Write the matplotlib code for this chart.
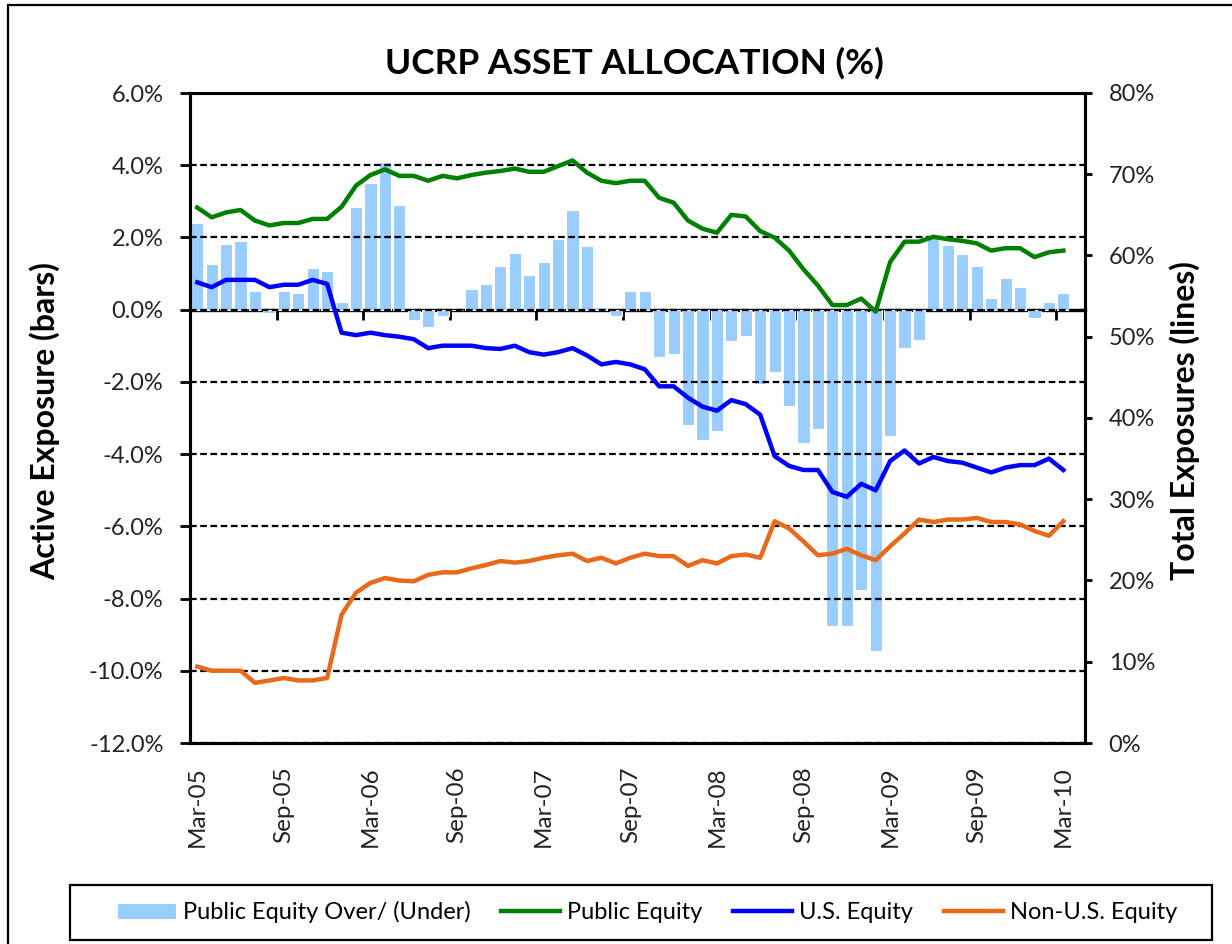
import matplotlib
matplotlib.use("Agg")
import matplotlib.pyplot as plt
import numpy as np
from matplotlib.patches import Rectangle

plt.rcParams["font.family"] = ["Lato", "DejaVu Sans"]

# monthly values, Mar-05 .. Mar-10
over_under = [2.40, 1.27, 1.82, 1.89, 0.51, -0.10, 0.51, 0.45, 1.14, 1.08,
              0.20, 2.83, 3.52, 4.08, 2.89, -0.29, -0.49, -0.17, 0.00, 0.57,
              0.70, 1.20, 1.58, 0.95, 1.33, 1.95, 2.77, 1.77, 0.07, -0.17,
              0.51, 0.51, -1.30, -1.23, -3.19, -3.62, -3.37, -0.86, -0.74, -2.05,
              -1.73, -2.68, -3.68, -3.30, -8.75, -8.75, -7.75, -9.44, -3.49, -1.05,
              -0.85, 2.07, 1.78, 1.53, 1.20, 0.33, 0.89, 0.64, -0.23, 0.20, 0.45]
public_equity = [65.9, 64.7, 65.3, 65.6, 64.3, 63.7, 64.0, 64.0, 64.5, 64.5,
                 66.0, 68.6, 69.9, 70.6, 69.8, 69.8, 69.2, 69.8, 69.5, 69.9,
                 70.2, 70.4, 70.7, 70.3, 70.3, 71.0, 71.7, 70.2, 69.2, 68.9,
                 69.2, 69.2, 67.1, 66.5, 64.3, 63.3, 62.8, 65.0, 64.8, 63.0,
                 62.2, 60.6, 58.3, 56.3, 53.9, 53.9, 54.7, 53.1, 59.2, 61.7,
                 61.7, 62.3, 62.0, 61.8, 61.5, 60.6, 60.9, 60.9, 59.8, 60.4, 60.6]
us_equity = [56.7, 56.1, 57.0, 57.0, 57.0, 56.1, 56.4, 56.4, 57.0, 56.5,
             50.5, 50.2, 50.5, 50.2, 50.0, 49.7, 48.6, 48.9, 48.9, 48.9,
             48.6, 48.5, 48.9, 48.1, 47.8, 48.1, 48.6, 47.7, 46.6, 46.9,
             46.6, 46.0, 43.9, 43.9, 42.5, 41.4, 40.9, 42.2, 41.7, 40.4,
             35.3, 34.1, 33.6, 33.6, 30.9, 30.3, 31.9, 31.1, 34.7, 36.0,
             34.4, 35.2, 34.7, 34.5, 33.9, 33.3, 33.9, 34.2, 34.2, 35.0, 33.6]
non_us_equity = [9.4, 8.9, 8.9, 8.9, 7.4, 7.7, 8.0, 7.7, 7.7, 8.0,
                 15.8, 18.5, 19.7, 20.3, 20.0, 19.9, 20.7, 21.0, 21.0, 21.5,
                 21.9, 22.4, 22.2, 22.4, 22.8, 23.1, 23.3, 22.4, 22.8, 22.1,
                 22.8, 23.3, 23.0, 23.0, 21.8, 22.5, 22.1, 23.0, 23.2, 22.8,
                 27.3, 26.4, 24.8, 23.1, 23.3, 23.9, 23.1, 22.5, 24.2, 25.8,
                 27.5, 27.2, 27.5, 27.5, 27.7, 27.2, 27.2, 26.9, 26.1, 25.5, 27.3]
tick_labels = ["Mar-05", "Sep-05", "Mar-06", "Sep-06", "Mar-07", "Sep-07",
               "Mar-08", "Sep-08", "Mar-09", "Sep-09", "Mar-10"]

x = np.arange(len(over_under))

fig = plt.figure(figsize=(12.32, 9.44), dpi=100)
ax = fig.add_axes([190 / 1232, 1 - 743 / 944, 895 / 1232, 650 / 944])
ax2 = ax.twinx()

bars = ax.bar(x, over_under, width=0.84, color="#99CCFF", edgecolor="white",
              linewidth=0.8, zorder=1, label="Public Equity Over/ (Under)")
ax.set_xlim(-0.5, len(x) + 0.5)
ax.set_ylim(-12, 6)
ax.set_yticks(np.arange(-12, 6.1, 2))
ax.yaxis.set_major_formatter(lambda v, p: f"{v:.1f}%")
ax.grid(axis="y", color="black", linestyle=(0, (3, 1.6)), linewidth=1.6)
ax.set_axisbelow(False)
ax.set_xticks(x[::6])
ax.set_xticklabels(tick_labels, rotation=90)
ax.tick_params(axis="x", length=0, pad=17, labelsize=17.5, colors="#222222")
ax.tick_params(axis="y", direction="out", length=7, width=2, pad=12,
               labelsize=17, labelcolor="#222222")

# zero line with the six-month tick marks
zero = ax.secondary_xaxis(12 / 18)
zero.set_xticks(np.arange(5.5, len(x), 6))
zero.tick_params(axis="x", direction="in", length=7, width=2, labeltop=False)
zero.spines["top"].set_linewidth(2.4)

l1, = ax2.plot(x, public_equity, color="#008000", lw=3.2, label="Public Equity")
l2, = ax2.plot(x, us_equity, color="#0000FF", lw=3.2, label="U.S. Equity")
l3, = ax2.plot(x, non_us_equity, color="#E8691A", lw=3.2, label="Non-U.S. Equity")
ax2.set_ylim(0, 80)
ax2.set_yticks(np.arange(0, 81, 10))
ax2.yaxis.set_major_formatter(lambda v, p: f"{v:.0f}%")
ax2.tick_params(axis="y", direction="out", length=5, width=2, pad=12,
                labelsize=17, labelcolor="#222222")

for a in (ax, ax2):
    for s in a.spines.values():
        s.set_linewidth(2.2)

fig.text(0.515, 1 - 63 / 944, "UCRP ASSET ALLOCATION (%)", ha="center",
         va="center", fontsize=25.5, fontweight="bold")
fig.text(45 / 1232, 1 - 421 / 944, "Active Exposure (bars)", rotation=90,
         ha="center", va="center", fontsize=23, fontweight="bold")
fig.text(1185 / 1232, 1 - 421 / 944, "Total Exposures (lines)", rotation=90,
         ha="center", va="center", fontsize=23, fontweight="bold")

fig.legend([bars, l1, l2, l3], [bars.get_label(), l1.get_label(),
           l2.get_label(), l3.get_label()],
           loc="center", bbox_to_anchor=(647 / 1232, 1 - 912 / 944), ncol=4,
           frameon=False, fontsize=17, handlelength=2.5, handletextpad=0.3,
           columnspacing=1.3)

fig.patches.append(Rectangle((70 / 1232, 4 / 944), 1142 / 1232, 55 / 944,
                             transform=fig.transFigure, fill=False,
                             edgecolor="black", lw=1.6))
fig.patches.append(Rectangle((8 / 1232, -0.1), 1.2, 0.1 + 1 - 5 / 944,
                             transform=fig.transFigure, fill=False,
                             edgecolor="black", lw=1.6))

fig.savefig("out.png", dpi=100)
plt.close(fig)
